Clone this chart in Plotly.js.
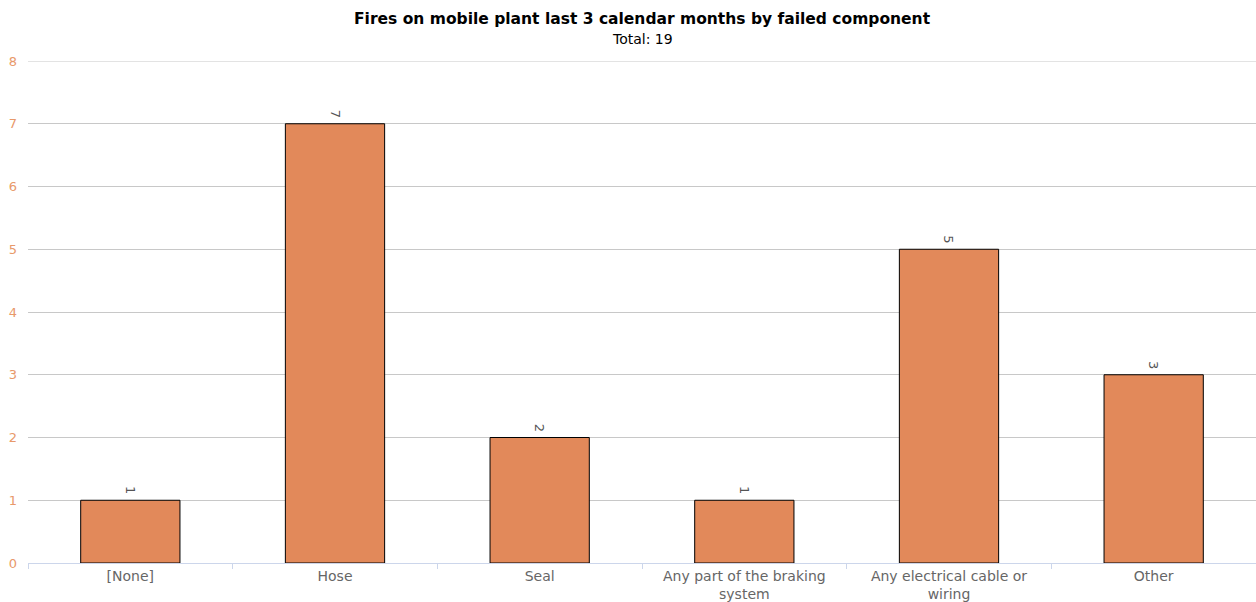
<!DOCTYPE html>
<html><head><meta charset="utf-8">
<script src="https://cdn.plot.ly/plotly-3.0.1.min.js"></script>
<style>html,body{margin:0;padding:0;background:#fff}#c{width:1256px;height:602px}</style>
</head><body><div id="c"></div>
<script>
const categories = ["[None]", "Hose", "Seal", "Any part of the braking<br>system", "Any electrical cable or<br>wiring", "Other"];
const values = [1, 7, 2, 1, 5, 3];
const yTicks = [0, 1, 2, 3, 4, 5, 6, 7, 8];
const titleText = "Fires on mobile plant last 3 calendar months by failed component";
const subtitleText = "Total: 19";

const yMax = yTicks[yTicks.length - 1];
const trace = {
  type: "bar",
  x: categories,
  y: values,
  marker: {color: "#e2895a", line: {color: "#000", width: 1}},
  width: 0.485,
  hoverinfo: "x+y"
};
const labelAnns = categories.map((c, i) => ({
  x: c, y: values[i], xref: "x", yref: "y",
  text: String(values[i]), textangle: 90, showarrow: false,
  yanchor: "bottom", yshift: 4,
  font: {family: "DejaVu Sans", size: 13, color: "#555"}
}));
const layout = {
  width: 1256, height: 602,
  margin: {l: 28, r: 0, t: 61, b: 39},
  paper_bgcolor: "#fff", plot_bgcolor: "#fff",
  font: {family: "DejaVu Sans"},
  showlegend: false,
  xaxis: {
    type: "category",
    tickson: "boundaries",
    ticks: "outside", ticklen: 5, tickcolor: "#ccd6eb",
    showline: true, linecolor: "#ccd6eb", linewidth: 1,
    showgrid: false,
    tickfont: {family: "DejaVu Sans", size: 14, color: "#666"},
    automargin: false
  },
  yaxis: {
    range: [0, yMax],
    tickvals: yTicks,
    ticktext: yTicks.map(String),
    showgrid: true, gridcolor: "#c8c8c8", gridwidth: 1,
    zeroline: false,
    showline: false,
    ticks: "", ticklabelstandoff: 10,
    tickfont: {family: "DejaVu Sans", size: 13, color: "#e8996a"},
    automargin: false
  },
  shapes: [
    {type: "line", xref: "paper", yref: "y", x0: 0, x1: 1, y0: yMax, y1: yMax,
     line: {color: "#c8c8c8", width: 1}, layer: "below"}
  ],
  annotations: [
    {text: "<b>" + titleText + "</b>", xref: "paper", yref: "paper", x: 0.5, y: 1, yshift: 42,
     showarrow: false, font: {family: "DejaVu Sans", size: 15.5, color: "#000"}, xanchor: "center", yanchor: "middle"},
    {text: subtitleText, xref: "paper", yref: "paper", x: 0.5, y: 1, yshift: 22,
     showarrow: false, font: {family: "DejaVu Sans", size: 14, color: "#000"}, xanchor: "center", yanchor: "middle"}
  ].concat(labelAnns)
};
Plotly.newPlot("c", [trace], layout, {displayModeBar: false, staticPlot: true});
</script></body></html>
